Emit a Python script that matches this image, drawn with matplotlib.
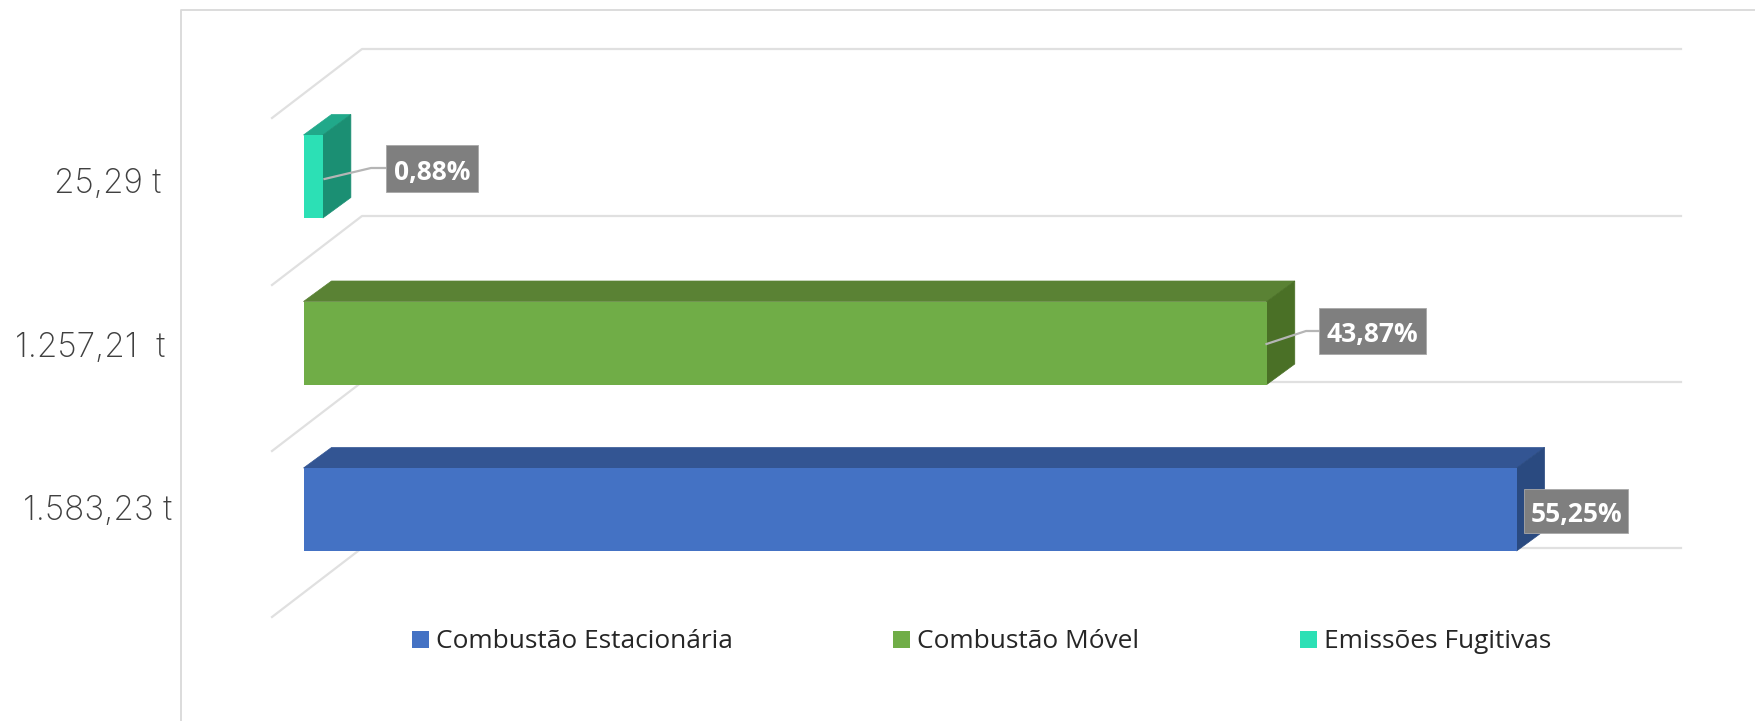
import matplotlib
matplotlib.use("Agg")
import matplotlib.pyplot as plt
from matplotlib.patches import Polygon, Rectangle

categories = ["Combustão Estacionária", "Combustão Móvel", "Emissões Fugitivas"]
tonnes = [1583.23, 1257.21, 25.29]
tonne_labels = ["1.583,23 t", "1.257,21  t", "25,29 t"]
pct_labels = ["55,25%", "43,87%", "0,88%"]

front = ["#4472C4", "#70AD47", "#2CE0B5"]
top = ["#335593", "#5A8234", "#21A98A"]
side = ["#2A4A80", "#4A7026", "#1B8F73"]
W, H = 1755, 721
X0, Y0 = 303.5, 509.5      # pixel of x=0, first category
KX, KY = 0.7662, 166.5     # pixels per tonne, pixels per category
DX, DY = 28 / KX, 20.5 / KY  # 3-D depth in data units
BAR_H = 83 / KY


def X(p):
    return (p - X0) / KX


def Y(p):
    return (Y0 - p) / KY


fig = plt.figure(figsize=(W / 100, H / 100), dpi=100, facecolor="white")
ax = fig.add_axes([0, 0, 1, 1])
ax.set_xlim(X(0), X(W))
ax.set_ylim(Y(H), Y(0))
ax.axis("off")

# chart frame
ax.plot([X(180.5), X(180.5), X(W)], [Y(H), Y(10), Y(10)], color="#D9D9D9", lw=1.3, zorder=1)

# floor gridlines of the 3-D chart
for back, fr in zip([548, 382, 216, 49], [617, 451, 285, 118]):
    ax.plot([X(272), X(362), X(1681)], [Y(fr), Y(back), Y(back)],
            color="#E0E0E0", lw=1.6, zorder=1, solid_joinstyle="round")

# bars
ypos = list(range(len(tonnes)))
bars = ax.barh(ypos, tonnes, height=BAR_H, left=0, color=front, zorder=3.1, linewidth=0)
handles = []
for i, (v, y) in enumerate(zip(tonnes, ypos)):
    lo, hi = y - BAR_H / 2, y + BAR_H / 2
    ax.add_patch(Polygon([(0, hi), (v, hi), (v + DX, hi + DY), (DX, hi + DY)],
                         closed=True, fc=top[i], ec=top[i], lw=0.5, zorder=3))
    ax.add_patch(Polygon([(v, lo), (v + DX, lo + DY), (v + DX, hi + DY), (v, hi)],
                         closed=True, fc=side[i], ec=side[i], lw=0.5, zorder=3))
    handles.append(Rectangle((0, 0), 1, 1, fc=front[i], ec="none"))

# tonne labels
label_right = [172, 165, 161]
label_mid = [511, 348, 184]
for t, xr, ym in zip(tonne_labels, label_right, label_mid):
    ax.text(X(xr), Y(ym), t, ha="right", va="center", fontsize=24,
            family="Inter", fontweight="light", color="#404040")

# percentage callouts
boxes = [(1524, 1628, 488.5, 533), (1318.5, 1425.5, 308, 353.5), (386, 478, 145, 191.5)]
leaders = [None,
           [(1266.5, 344), (1306, 331), (1318.5, 331)],
           [(324.5, 179), (371, 168), (386, 168)]]
for t, (x0, x1, y0, y1), lead in zip(pct_labels, boxes, leaders):
    if lead:
        ax.plot([X(p[0]) for p in lead], [Y(p[1]) for p in lead],
                color="#B5B5B5", lw=1.6, zorder=4)
    ax.add_patch(Rectangle((X(x0), Y(y1)), X(x1) - X(x0), Y(y0) - Y(y1),
                           fc="#7F7F7F", ec="#A8A8A8", lw=0.6, zorder=5))
    ax.text(X((x0 + x1) / 2), Y((y0 + y1) / 2 + 4), t, ha="center", va="center",
            fontsize=19, family="Open Sans", fontweight="bold", color="white", zorder=6)

leg = ax.legend(handles, categories, ncols=3, loc="center left",
                bbox_to_anchor=(412 / W, 1 - 642 / H), frameon=False,
                prop={"family": "Open Sans", "size": 18.9}, labelcolor="#262626",
                handlelength=0.65, handleheight=0.65, handletextpad=0.27,
                columnspacing=6.1, borderpad=0, borderaxespad=0)

fig.savefig("out.png", dpi=100, facecolor="white")
